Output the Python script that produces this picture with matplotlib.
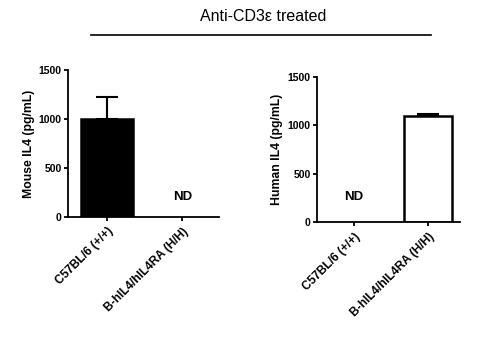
import numpy as np
import matplotlib as mpl
mpl.use('Agg')
import matplotlib.pyplot as plt

# Groups and IL4 levels (pg/mL); None = not detected
groups = ['C57BL/6 (+/+)', 'B-hIL4/hIL4RA (H/H)']
mouse_il4 = [1000, None]
mouse_err = [225, None]
human_il4 = [None, 1100]
human_err = [None, 20]
yticks = [0, 500, 1000, 1500]

mpl.rcParams['font.family'] = 'sans-serif'
mpl.rcParams['font.sans-serif'] = ['Liberation Sans', 'DejaVu Sans']

fig = plt.figure(figsize=(4.8, 3.37), dpi=100)

ax1 = fig.add_axes([0.1417, 0.356, 0.315, 0.436])
ax2 = fig.add_axes([0.660, 0.341, 0.298, 0.431])


def panel(ax, values, errs, ylabel, face, width, xlim, nd_y):
    x = np.arange(len(groups))
    for i, (v, e) in enumerate(zip(values, errs)):
        if v is None:
            ax.text(x[i], nd_y, 'ND', ha='center', va='center',
                    fontsize=9.5, fontweight='bold')
            continue
        ax.bar(x[i], v, width=width, color=face, edgecolor='black',
               linewidth=1.8, zorder=2)
        ax.errorbar(x[i], v, yerr=[[0], [e]], color='black', capsize=8,
                    elinewidth=1.5, capthick=1.5, zorder=1)
    ax.set_xlim(*xlim)
    ax.set_ylim(0, 1500)
    ax.set_yticks(yticks)
    ax.set_xticks(x)
    ax.set_xticklabels(groups, rotation=45, ha='right',
                       rotation_mode='anchor', fontsize=8.6, fontweight='bold')
    for lab in ax.get_yticklabels():
        lab.set_fontsize(7.5)
        lab.set_fontweight('bold')
    ax.set_ylabel(ylabel, fontsize=8.8, fontweight='bold', labelpad=3)
    ax.spines['top'].set_visible(False)
    ax.spines['right'].set_visible(False)
    for s in ['left', 'bottom']:
        ax.spines[s].set_linewidth(1.3)
    ax.tick_params(axis='both', length=3, width=1.3, pad=1.5)
    ax.tick_params(axis='x', pad=3)


panel(ax1, mouse_il4, mouse_err, 'Mouse IL4 (pg/mL)', 'black', 0.69,
      (-0.52, 1.49), 204)
panel(ax2, human_il4, human_err, 'Human IL4 (pg/mL)', 'white', 0.66,
      (-0.5, 1.43), 259)

# Header and bracket line
fig.text(0.548, 0.95, 'Anti-CD3ε treated', ha='center', va='center',
         fontsize=11.5)
fig.add_artist(plt.Line2D([91 / 480, 431 / 480], [1 - 35 / 337, 1 - 35 / 337],
                          color='black', linewidth=1.2))

fig.savefig('out.png', dpi=100)
